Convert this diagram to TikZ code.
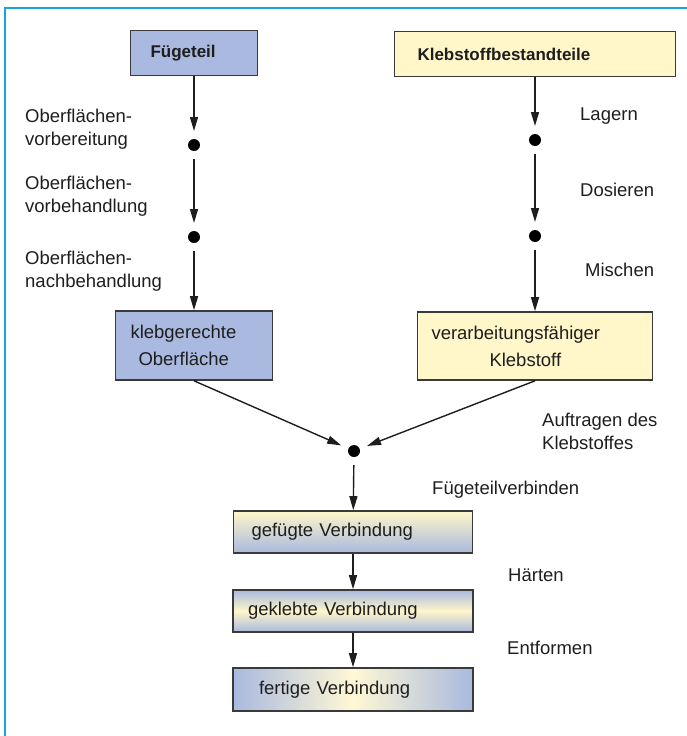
\documentclass[tikz,border=0pt]{standalone}
\usepackage{fontspec}
\setmainfont{Liberation Sans}
\usetikzlibrary{arrows.meta}
\definecolor{framecyan}{HTML}{1BA5DF}
\definecolor{teilblue}{HTML}{A9B9DF}
\definecolor{klebyellow}{HTML}{FFF6CA}
\definecolor{boxline}{HTML}{3A3A3A}
\definecolor{ink}{HTML}{1E1E1E}
\tikzset{
  box/.style={draw=boxline,line width=1.6pt,align=left,inner ysep=0pt,text=ink,
    font=\fontsize{18.5}{27}\selectfont},
  head/.style={box,minimum height=45pt,font=\fontsize{17}{20}\selectfont\bfseries},
  dot/.style={circle,fill=black,inner sep=0pt,minimum size=12pt,outer sep=8pt},
  arrow/.style={-{Triangle[length=14pt,width=8pt]},draw=ink,line width=1.4pt},
  txt/.style={anchor=west,align=left,inner sep=0pt,text=ink,
    font=\fontsize{18.5}{23}\selectfont}
}
\begin{document}
\begin{tikzpicture}[x=1pt,y=-1pt]
    \useasboundingbox (0,0) rectangle (687,736);
    \draw[framecyan,line width=2pt] (687,8) -- (5,8) -- (5,736);
    \node[head,fill=teilblue,text width=87pt,inner xsep=20pt] (fuege) at (194,53) {Fügeteil};
    \node[head,fill=klebyellow,text width=235pt,inner xsep=23pt] (kbt) at (535,54) {Klebstoffbestandteile};
    \node[dot] (d1) at (194,145) {};
    \node[dot] (d2) at (194,237) {};
    \node[dot] (d3) at (535,140) {};
    \node[dot] (d4) at (535,236) {};
    \node[box,fill=teilblue,minimum height=69pt,text width=127pt,inner xsep=15pt] (kleb) at (194,345.5)
      {klebgerechte\\\hspace*{8pt}Oberfläche};
    \node[box,fill=klebyellow,minimum height=68pt,text width=207pt,inner xsep=14pt] (verarb) at (535,346)
      {verarbeitungsfähiger\\\hspace*{58pt}Klebstoff};
    \node[dot] (m) at (354,451) {};
    \node[box,top color=klebyellow,bottom color=teilblue,minimum height=42pt,text width=203pt,inner xsep=18pt]
      (gefuegt) at (353,532) {gefügte Verbindung};
    \node[box,top color=teilblue,bottom color=teilblue,middle color=klebyellow,minimum height=42pt,
      text width=210pt,inner xsep=15pt] (geklebt) at (353,611) {geklebte Verbindung};
    \node[box,left color=teilblue,right color=teilblue,middle color=klebyellow!80,minimum height=43pt,
      text width=188pt,inner xsep=26pt] (fertig) at (353,689.5) {fertige Verbindung};
    \node[txt] (lvorb) at (25,129) {Oberflächen-\\vorbereitung};
    \node[txt] (lvorbeh) at (25,196) {Oberflächen-\\vorbehandlung};
    \node[txt] (lnach) at (25,271) {Oberflächen-\\nachbehandlung};
    \node[txt] (llag) at (580,116) {Lagern};
    \node[txt] (ldos) at (580,190) {Dosieren};
    \node[txt] (lmisch) at (585,270) {Mischen};
    \node[txt] (lauf) at (542,431) {Auftragen des\\Klebstoffes};
    \node[txt] (lfuev) at (432,490) {Fügeteilverbinden};
    \node[txt] (lhaert) at (508,575) {Härten};
    \node[txt] (lentf) at (507,648) {Entformen};
    \foreach \a/\b in {fuege/d1,d1/d2,d2/kleb,kbt/d3,d3/d4,d4/verarb,m/gefuegt,gefuegt/geklebt,geklebt/fertig}{\draw[arrow] (\a) -- (\b);}
    \draw[arrow] (kleb.south) -- (m);
    \draw[arrow] (verarb.south) -- (m);
  \end{tikzpicture}
\end{document}
